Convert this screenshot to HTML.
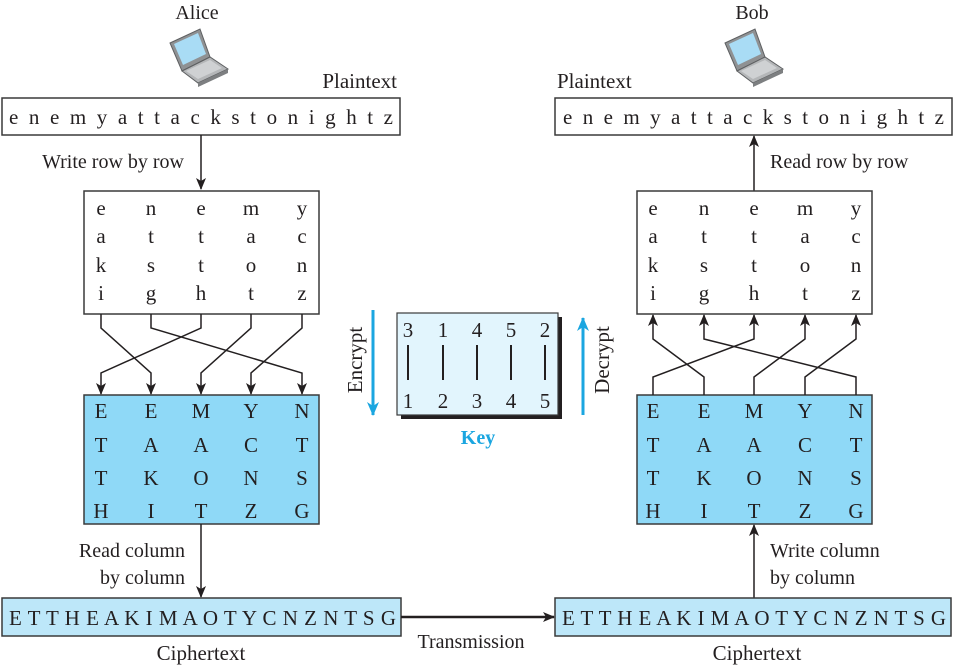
<!DOCTYPE html>
<html><head><meta charset="utf-8"><style>
html,body{margin:0;padding:0;background:#fff}
svg{display:block}
text{font-family:"Liberation Serif",serif;fill:#231f20}
</style></head><body>
<svg width="956" height="668" viewBox="0 0 956 668" xmlns="http://www.w3.org/2000/svg">
<defs>
<marker id="ah" markerWidth="12" markerHeight="12" refX="11" refY="6" orient="auto" markerUnits="userSpaceOnUse">
<path d="M0,1 L12,6 L0,11 L3,6 Z" fill="#231f20"/></marker>
<marker id="bh" markerWidth="14" markerHeight="14" refX="13" refY="7" orient="auto" markerUnits="userSpaceOnUse">
<path d="M0,1 L14,7 L0,13 L4,7 Z" fill="#1ba6e0"/></marker>
<g id="laptop">
<path d="M0,18 L30,4 L40,32 L12,46 Z" fill="#8f9193" stroke="#5d5f61" stroke-width="1"/>
<path d="M4,19 L28,8 L36,29 L13,40 Z" fill="#a9dcf5"/>
<path d="M12,46 L40,32 L58,44 L28,58 Z" fill="#b4b6b8" stroke="#5d5f61" stroke-width="1"/>
<path d="M16,46 L40,35 L52,43 L28,54 Z" fill="#cfd1d3"/>
<path d="M28,58 L58,44 L58,48 L28,62 Z" fill="#7d7f81"/>
</g>
</defs>

<text x="197" y="19" font-size="20" text-anchor="middle">Alice</text>
<use href="#laptop" x="170" y="25"/>
<text x="752" y="19" font-size="20" text-anchor="middle">Bob</text>
<use href="#laptop" x="725" y="25"/>

<text x="397" y="88" font-size="21" text-anchor="end">Plaintext</text>
<rect x="2" y="98" width="398" height="37" fill="#fff" stroke="#3a3a3a" stroke-width="1.5"/>
<text x="9" y="124" font-size="21" textLength="384" lengthAdjust="spacing">e n e m y a t t a c k s t o n i g h t z</text>

<text x="557" y="88" font-size="21">Plaintext</text>
<rect x="555" y="98" width="397" height="37" fill="#fff" stroke="#3a3a3a" stroke-width="1.5"/>
<text x="563" y="124" font-size="21" textLength="381" lengthAdjust="spacing">e n e m y a t t a c k s t o n i g h t z</text>

<line x1="201" y1="135" x2="201" y2="189" stroke="#231f20" stroke-width="1.5" marker-end="url(#ah)"/>
<text x="184" y="168" font-size="20" text-anchor="end">Write row by row</text>
<line x1="754" y1="191" x2="754" y2="136" stroke="#231f20" stroke-width="1.5" marker-end="url(#ah)"/>
<text x="770" y="168" font-size="20">Read row by row</text>

<rect x="84" y="191" width="235" height="123" fill="#fff" stroke="#3a3a3a" stroke-width="1.5"/>
<rect x="637" y="191" width="235" height="123" fill="#fff" stroke="#3a3a3a" stroke-width="1.5"/>
<g font-size="21" text-anchor="middle">
<g>
<text x="101" y="215">e</text><text x="151" y="215">n</text><text x="201" y="215">e</text><text x="251" y="215">m</text><text x="302" y="215">y</text>
<text x="101" y="243">a</text><text x="151" y="243">t</text><text x="201" y="243">t</text><text x="251" y="243">a</text><text x="302" y="243">c</text>
<text x="101" y="272">k</text><text x="151" y="272">s</text><text x="201" y="272">t</text><text x="251" y="272">o</text><text x="302" y="272">n</text>
<text x="101" y="300">i</text><text x="151" y="300">g</text><text x="201" y="300">h</text><text x="251" y="300">t</text><text x="302" y="300">z</text>
</g>
<g transform="translate(552,0)">
<text x="101" y="215">e</text><text x="152" y="215">n</text><text x="202" y="215">e</text><text x="253" y="215">m</text><text x="304" y="215">y</text>
<text x="101" y="243">a</text><text x="152" y="243">t</text><text x="202" y="243">t</text><text x="253" y="243">a</text><text x="304" y="243">c</text>
<text x="101" y="272">k</text><text x="152" y="272">s</text><text x="202" y="272">t</text><text x="253" y="272">o</text><text x="304" y="272">n</text>
<text x="101" y="300">i</text><text x="152" y="300">g</text><text x="202" y="300">h</text><text x="253" y="300">t</text><text x="304" y="300">z</text>
</g>
</g>

<rect x="84" y="395" width="235" height="129" fill="#8fd9f7" stroke="#3a3a3a" stroke-width="1.5"/>
<rect x="637" y="395" width="235" height="129" fill="#8fd9f7" stroke="#3a3a3a" stroke-width="1.5"/>
<g font-size="21" text-anchor="middle">
<g>
<text x="101" y="418">E</text><text x="151" y="418">E</text><text x="201" y="418">M</text><text x="251" y="418">Y</text><text x="302" y="418">N</text>
<text x="101" y="452">T</text><text x="151" y="452">A</text><text x="201" y="452">A</text><text x="251" y="452">C</text><text x="302" y="452">T</text>
<text x="101" y="485">T</text><text x="151" y="485">K</text><text x="201" y="485">O</text><text x="251" y="485">N</text><text x="302" y="485">S</text>
<text x="101" y="518">H</text><text x="151" y="518">I</text><text x="201" y="518">T</text><text x="251" y="518">Z</text><text x="302" y="518">G</text>
</g>
<g transform="translate(552,0)">
<text x="101" y="418">E</text><text x="152" y="418">E</text><text x="202" y="418">M</text><text x="253" y="418">Y</text><text x="304" y="418">N</text>
<text x="101" y="452">T</text><text x="152" y="452">A</text><text x="202" y="452">A</text><text x="253" y="452">C</text><text x="304" y="452">T</text>
<text x="101" y="485">T</text><text x="152" y="485">K</text><text x="202" y="485">O</text><text x="253" y="485">N</text><text x="304" y="485">S</text>
<text x="101" y="518">H</text><text x="152" y="518">I</text><text x="202" y="518">T</text><text x="253" y="518">Z</text><text x="304" y="518">G</text>
</g>
</g>

<g stroke="#231f20" stroke-width="1.5" fill="none" marker-end="url(#ah)">
<polyline points="101,314 101,328 151,373 151,394"/>
<polyline points="151,314 151,328 302,373 302,394"/>
<polyline points="201,314 201,328 101,373 101,394"/>
<polyline points="251,314 251,328 201,373 201,394"/>
<polyline points="302,314 302,328 251,373 251,394"/>
</g>
<g stroke="#231f20" stroke-width="1.5" fill="none" marker-end="url(#ah)">
<polyline points="653,395 653,377 754,339 754,315"/>
<polyline points="704,395 704,377 653,339 653,315"/>
<polyline points="754,395 754,377 805,339 805,315"/>
<polyline points="805,395 805,377 856,339 856,315"/>
<polyline points="856,395 856,377 704,339 704,315"/>
</g>

<rect x="401" y="317" width="161" height="102" fill="#231f20"/>
<rect x="397" y="313" width="161" height="102" fill="#e2f5fd" stroke="#3a3a3a" stroke-width="1.2"/>
<g font-size="21" text-anchor="middle">
<text x="408" y="337">3</text><text x="443" y="337">1</text><text x="477" y="337">4</text><text x="511" y="337">5</text><text x="545" y="337">2</text>
<text x="408" y="408">1</text><text x="443" y="408">2</text><text x="477" y="408">3</text><text x="511" y="408">4</text><text x="545" y="408">5</text>
</g>
<g stroke="#231f20" stroke-width="2">
<line x1="408" y1="345" x2="408" y2="380"/><line x1="443" y1="345" x2="443" y2="380"/><line x1="477" y1="345" x2="477" y2="380"/><line x1="511" y1="345" x2="511" y2="380"/><line x1="545" y1="345" x2="545" y2="380"/>
</g>
<text x="478" y="444" font-size="20" font-weight="bold" text-anchor="middle" style="fill:#1ba6e0">Key</text>
<line x1="373" y1="310" x2="373" y2="415" stroke="#1ba6e0" stroke-width="3" marker-end="url(#bh)"/>
<line x1="583" y1="415" x2="583" y2="318" stroke="#1ba6e0" stroke-width="3" marker-end="url(#bh)"/>
<text transform="translate(362,360) rotate(-90)" font-size="21" text-anchor="middle">Encrypt</text>
<text transform="translate(609,360) rotate(-90)" font-size="21" text-anchor="middle">Decrypt</text>

<line x1="201" y1="524" x2="201" y2="597" stroke="#231f20" stroke-width="1.5" marker-end="url(#ah)"/>
<text x="185" y="557" font-size="20" text-anchor="end">Read column</text>
<text x="185" y="584" font-size="20" text-anchor="end">by column</text>
<line x1="754" y1="598" x2="754" y2="525" stroke="#231f20" stroke-width="1.5" marker-end="url(#ah)"/>
<text x="770" y="557" font-size="20">Write column</text>
<text x="770" y="584" font-size="20">by column</text>

<rect x="2" y="598" width="399" height="38" fill="#bde7f9" stroke="#3a3a3a" stroke-width="1.5"/>
<text x="9" y="625" font-size="21" textLength="387" lengthAdjust="spacing">E T T H E A K I M A O T Y C N Z N T S G</text>
<text x="201" y="660" font-size="21" text-anchor="middle">Ciphertext</text>
<rect x="555" y="598" width="396" height="38" fill="#bde7f9" stroke="#3a3a3a" stroke-width="1.5"/>
<text x="562" y="625" font-size="21" textLength="384" lengthAdjust="spacing">E T T H E A K I M A O T Y C N Z N T S G</text>
<text x="757" y="660" font-size="21" text-anchor="middle">Ciphertext</text>

<line x1="401" y1="617" x2="554" y2="617" stroke="#231f20" stroke-width="2.5" marker-end="url(#ah)"/>
<text x="471" y="648" font-size="20" text-anchor="middle">Transmission</text>
</svg>
</body></html>
